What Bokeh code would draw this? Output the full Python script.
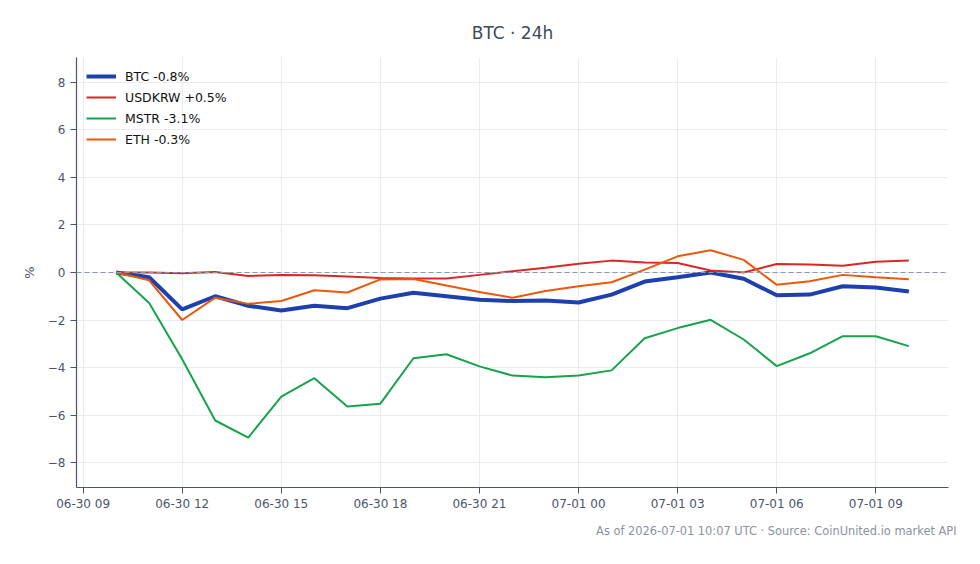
import pandas as pd
from bokeh.plotting import figure
from bokeh.models import (Range1d, Span, Legend, LegendItem, Title,
                          SingleIntervalTicker, DatetimeTickFormatter,
                          CustomJSTickFormatter, ColumnDataSource)
from bokeh.embed import file_html
from bokeh.resources import INLINE

# Hourly snapshots over the last 24h (UTC)
times = pd.date_range("2026-06-30 10:00", periods=25, freq="h")

# % change versus the first snapshot
btc = [0.0, -0.2, -1.55, -1.0, -1.4, -1.6, -1.4, -1.5, -1.1, -0.85, -1.0, -1.15, -1.2,
       -1.18, -1.26, -0.93, -0.38, -0.2, 0.0, -0.26, -0.96, -0.93, -0.58, -0.63, -0.8]
usdkrw = [0.0, 0.0, -0.03, 0.02, -0.15, -0.1, -0.12, -0.17, -0.23, -0.25, -0.25, -0.1, 0.05,
          0.2, 0.37, 0.5, 0.42, 0.4, 0.08, 0.0, 0.36, 0.34, 0.28, 0.45, 0.5]
mstr = [0.0, -1.28, -3.65, -6.23, -6.95, -5.22, -4.45, -5.64, -5.52, -3.61, -3.44, -3.95, -4.34,
        -4.41, -4.34, -4.12, -2.77, -2.34, -1.99, -2.82, -3.94, -3.4, -2.68, -2.68, -3.1]
eth = [0.0, -0.33, -2.0, -1.06, -1.32, -1.2, -0.75, -0.84, -0.29, -0.27, -0.55, -0.82, -1.06,
       -0.78, -0.58, -0.41, 0.12, 0.68, 0.94, 0.53, -0.52, -0.37, -0.1, -0.2, -0.28]

series_names = ["BTC", "USDKRW", "MSTR", "ETH"]
series_values = [btc, usdkrw, mstr, eth]
series_colors = ["#1e40af", "#dc2626", "#16a34a", "#ea580c"]
series_widths = [4, 2, 2, 2]

FONT = "DejaVu Sans"
TEXT = "#4a5568"

pad = (times[-1] - times[0]) * 0.05
p = figure(width=980, height=564, x_axis_type="datetime",
           x_range=Range1d(times[0] - pad, times[-1] + pad),
           y_range=Range1d(-9.05, 9.05),
           output_backend="svg", toolbar_location=None,
           min_border_left=76, min_border_right=32,
           min_border_top=57, min_border_bottom=77)
p.outline_line_color = None
p.background_fill_color = "white"
p.border_fill_color = "white"

# title
p.title.text = "BTC \u00b7 24h"
p.title.align = "center"
p.title.text_font = FONT
p.title.text_font_size = "17px"
p.title.text_font_style = "normal"
p.title.text_color = "#3d4a5c"
p.title.standoff = 29

# footer note
p.add_layout(Title(text="As of 2026-07-01 10:07 UTC \u00b7 Source: CoinUnited.io market API",
                   align="right", text_font=FONT, text_font_size="11.4px",
                   text_font_style="normal", text_color="#8a929e", offset=-8,
                   standoff=16), "below")

# axes
p.xaxis.ticker = SingleIntervalTicker(interval=3 * 3600 * 1000)
p.xaxis.formatter = DatetimeTickFormatter(hours="%m-%d %H", hourmin="%m-%d %H",
                                          days="%m-%d %H", minutes="%m-%d %H")
p.yaxis.ticker = SingleIntervalTicker(interval=2)
p.yaxis.formatter = CustomJSTickFormatter(
    code="return tick < 0 ? '\\u2212' + Math.abs(tick) : String(tick);")
p.yaxis.axis_label = "%"
for ax in (p.xaxis[0], p.yaxis[0]):
    ax.axis_line_color = TEXT
    ax.axis_line_width = 1.2
    ax.major_tick_line_color = TEXT
    ax.major_tick_out = 6
    ax.major_tick_in = 0
    ax.minor_tick_line_color = None
    ax.major_label_text_font = FONT
    ax.major_label_text_font_size = "12px"
    ax.major_label_text_color = TEXT
    ax.axis_label_text_font = FONT
    ax.axis_label_text_font_size = "13px"
    ax.axis_label_text_font_style = "normal"
    ax.axis_label_text_color = TEXT
p.xaxis.major_label_standoff = 3
p.yaxis.axis_label_standoff = 8

p.xgrid.grid_line_color = "#e8ebf0"
p.ygrid.grid_line_color = "#e8ebf0"

# zero reference
p.add_layout(Span(location=0, dimension="width", line_color="#8e98ab",
                  line_width=1, line_dash="5 3"))

items = []
for name, vals, color, w in zip(series_names, series_values, series_colors, series_widths):
    src = ColumnDataSource(dict(t=times, v=vals))
    r = p.line("t", "v", source=src, line_color=color, line_width=w)
    change = vals[-1]
    label = f"{name} {'+' if change > 0 else '-' if change < 0 else ''}{abs(change):.1f}%"
    items.append(LegendItem(label=label, renderers=[r]))

legend = Legend(items=items, location="top_left", margin=10, padding=0,
                spacing=3, glyph_width=30, glyph_height=18, label_height=18,
                label_standoff=9, label_text_font=FONT, label_text_font_size="12.5px",
                label_text_color="#111111", border_line_color=None,
                background_fill_alpha=0)
p.add_layout(legend)

open("out.html", "w").write(file_html(p, INLINE))
